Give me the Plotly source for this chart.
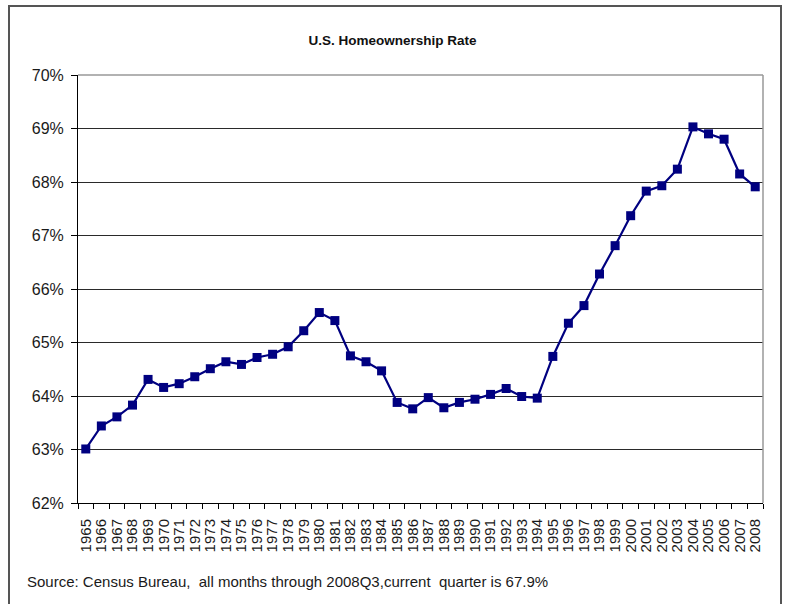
import plotly.graph_objects as go

years = [str(y) for y in range(1965, 2009)]
rates = [63.01, 63.44, 63.61, 63.83, 64.31, 64.16, 64.23, 64.36, 64.51, 64.64,
         64.59, 64.72, 64.78, 64.92, 65.22, 65.56, 65.41, 64.75, 64.64, 64.47,
         63.88, 63.76, 63.97, 63.78, 63.88, 63.94, 64.03, 64.14, 63.99, 63.96,
         64.74, 65.36, 65.69, 66.28, 66.81, 67.37, 67.83, 67.93, 68.24, 69.03,
         68.90, 68.80, 68.15, 67.91]
y_ticks = [62, 63, 64, 65, 66, 67, 68, 69, 70]
y_labels = [f"{v}%" for v in y_ticks]

title_text = "U.S. Homeownership Rate"
source_text = "Source: Census Bureau,  all months through 2008Q3,current  quarter is 67.9%"

fig = go.Figure()
fig.add_trace(go.Scatter(
    x=years, y=rates, mode="lines+markers",
    line=dict(color="#000080", width=2.2),
    marker=dict(symbol="square", size=9, color="#000080"),
    showlegend=False, hoverinfo="x+y",
))

W, H = 785, 604
L, R, T, B = 78, 22, 75, 101
fig.update_layout(
    width=W, height=H,
    margin=dict(l=L, r=R, t=T, b=B),
    paper_bgcolor="white", plot_bgcolor="white",
    font=dict(family="Liberation Sans, Arial, sans-serif", color="#1a1a1a"),
    title=dict(text=f"<b>{title_text}</b>", x=0.5, xanchor="center",
               y=1 - 40 / H, yanchor="middle", yref="container",
               font=dict(family="Liberation Sans Narrow, Arial Narrow, Liberation Sans, Arial", size=13.5, color="#111")),
    xaxis=dict(
        type="category", range=[-0.5, len(years) - 0.5],
        tickmode="array", tickvals=years, ticktext=years,
        tickangle=-90, tickfont=dict(size=15), ticklabelstandoff=9,
        ticks="outside", tickson="boundaries", ticklen=5, tickcolor="black",
        showline=True, linecolor="black", linewidth=1,
        showgrid=False, zeroline=False, fixedrange=True,
    ),
    yaxis=dict(
        range=[62, 70], tickmode="array", tickvals=y_ticks, ticktext=y_labels,
        tickfont=dict(size=16), ticklabelstandoff=4,
        ticks="outside", ticklen=6, tickcolor="black",
        showline=True, linecolor="black", linewidth=1,
        showgrid=True, gridcolor="#2a2a2a", gridwidth=1,
        zeroline=False, fixedrange=True,
    ),
)

pw = W - L - R
ph = H - T - B
def px(xp):
    return (xp - L) / pw
def py(yp):
    return (H - B - yp) / ph

# plot-area border (top and right in gray)
fig.add_shape(type="line", xref="paper", yref="paper", x0=0, x1=1, y0=1, y1=1,
              line=dict(color="#999999", width=1.5), layer="above")
fig.add_shape(type="line", xref="paper", yref="paper", x0=1, x1=1, y0=0, y1=1,
              line=dict(color="#999999", width=1.5), layer="above")
# outer chart frame
fig.add_shape(type="rect", xref="paper", yref="paper",
              x0=px(9), x1=px(781), y0=py(612), y1=py(6),
              line=dict(color="#555555", width=2), fillcolor="rgba(0,0,0,0)", layer="above")

fig.add_annotation(text=source_text, xref="paper", yref="paper",
                   x=px(25), y=py(581), xanchor="left", yanchor="middle",
                   showarrow=False, font=dict(size=15, color="#1a1a1a"))

fig.write_html("out.html",
               config={"displayModeBar": False},
               post_script="document.body.style.margin='0';document.body.style.overflow='hidden';")
